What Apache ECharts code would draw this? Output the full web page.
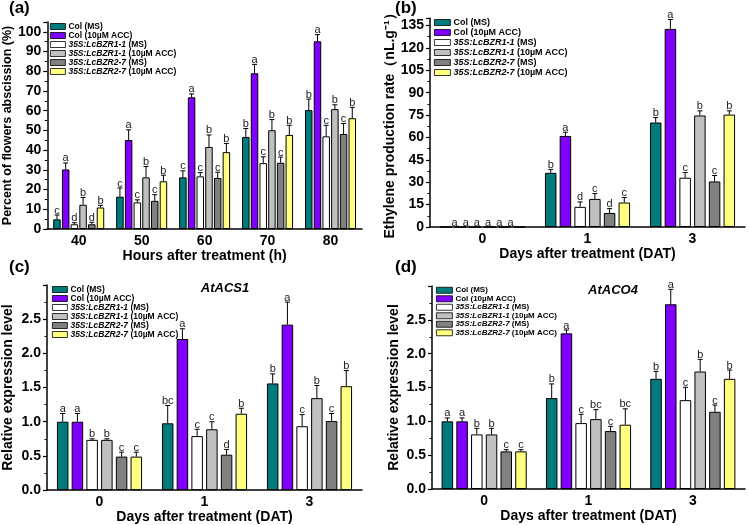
<!DOCTYPE html>
<html>
<head>
<meta charset="utf-8">
<script src="https://cdn.jsdelivr.net/npm/echarts@6/dist/echarts.min.js"></script>
<style>
  html, body { margin: 0; padding: 0; background: #fff; }
  #main { width: 749px; height: 525px; }
</style>
</head>
<body>
<div id="main"></div>
<script>
const seriesNames = ['Col (MS)', 'Col (10µM ACC)', '35S:LcBZR1-1 (MS)', '35S:LcBZR1-1 (10µM ACC)', '35S:LcBZR2-7 (MS)', '35S:LcBZR2-7 (10µM ACC)']
const colors = ['#007b7b', '#8000ff', '#ffffff', '#c0c0c0', '#808080', '#ffff80']

// (a) flower abscission
const aCats = ['40', '50', '60', '70', '80']
const aMean = [
  [4.9, 16.4, 26.2, 46.7, 60.3],
  [30.2, 45.1, 66.8, 79.0, 95.2],
  [2.4, 13.5, 26.7, 33.4, 47.0],
  [12.3, 26.2, 41.6, 50.1, 60.8],
  [2.4, 14.3, 25.9, 33.6, 48.2],
  [10.9, 24.2, 39.0, 47.7, 56.2]
]
const aErr = [
  [2.2, 4.4, 3.3, 4.3, 5.6],
  [3.3, 5.2, 1.7, 4.5, 3.4],
  [0.8, 1.3, 1.9, 3.2, 5.6],
  [3.7, 5.5, 6.1, 5.4, 2.2],
  [1.0, 3.1, 2.9, 2.9, 5.3],
  [1.1, 3.1, 4.4, 4.9, 5.5]
]
const aSig = [
  ['c', 'c', 'c', 'b', 'b'],
  ['a', 'a', 'a', 'a', 'a'],
  ['d', 'c', 'c', 'c', 'c'],
  ['b', 'b', 'b', 'b', 'b'],
  ['d', 'c', 'c', 'c', 'c'],
  ['b', 'b', 'b', 'b', 'b']
]

// (b) ethylene production
const dayCats = ['0', '1', '3']
const bMean = [
  [0, 36.3, 70.0],
  [0, 61.0, 132.7],
  [0, 13.5, 33.0],
  [0, 18.8, 74.7],
  [0, 9.4, 30.5],
  [0, 16.4, 75.3]
]
const bErr = [
  [0, 2.3, 3.3],
  [0, 2.5, 6.3],
  [0, 3.3, 3.5],
  [0, 3.6, 3.1],
  [0, 2.9, 4.0],
  [0, 3.3, 2.5]
]
const bSig = [
  ['a', 'b', 'b'],
  ['a', 'a', 'a'],
  ['a', 'd', 'c'],
  ['a', 'c', 'b'],
  ['a', 'd', 'c'],
  ['a', 'c', 'b']
]

// (c) AtACS1
const cMean = [
  [1.00, 0.977, 1.56],
  [1.00, 2.21, 2.42],
  [0.735, 0.79, 0.934],
  [0.735, 0.89, 1.345],
  [0.49, 0.518, 1.01],
  [0.49, 1.117, 1.52]
]
const cErr = [
  [0.12, 0.26, 0.14],
  [0.12, 0.15, 0.33],
  [0.015, 0.10, 0.17],
  [0.015, 0.11, 0.185],
  [0.065, 0.077, 0.11],
  [0.065, 0.08, 0.23]
]
const cSig = [
  ['a', 'bc', 'b'],
  ['a', 'a', 'a'],
  ['b', 'c', 'c'],
  ['b', 'c', 'b'],
  ['c', 'd', 'c'],
  ['c', 'b', 'b']
]

// (d) AtACO4
const dMean = [
  [1.0, 1.343, 1.628],
  [1.0, 2.30, 2.73],
  [0.807, 0.974, 1.313],
  [0.807, 1.033, 1.736],
  [0.556, 0.856, 1.141],
  [0.556, 0.95, 1.628]
]
const dErr = [
  [0.05, 0.21, 0.11],
  [0.05, 0.05, 0.22],
  [0.09, 0.13, 0.19],
  [0.09, 0.14, 0.18],
  [0.025, 0.07, 0.10],
  [0.025, 0.235, 0.13]
]
const dSig = [
  ['a', 'b', 'b'],
  ['a', 'a', 'a'],
  ['b', 'c', 'c'],
  ['b', 'bc', 'b'],
  ['c', 'c', 'c'],
  ['c', 'bc', 'b']
]

const FONT = 'Liberation Sans'

const panels = [
  { cats: aCats, mean: aMean, err: aErr, sig: aSig, barW: 7.5, gap: 16,
    grid: { left: 45, top: 22, width: 317, height: 207 },
    y: { max: 105, interval: 10, dec: 0 }, yName: 'Percent of flowers abscission (%)', yGap: 30, yFont: 12.5,
    xName: 'Hours after treatment (h)', xGap: 19,
    legend: { left: 50, top: 22, w: 15, h: 6, font: 8.5, lh: 9, gap: 0 } },
  { cats: dayCats, mean: bMean, err: bErr, sig: bSig, barW: 11.5, gap: 28,
    grid: { left: 430, top: 18, width: 315, height: 209 },
    y: { max: 140, interval: 15, dec: 0 }, yName: 'Ethylene production rate（nL.g⁻¹）', yGap: 28, yFont: 14,
    xName: 'Days after treatment (DAT)', xGap: 18,
    legend: { left: 434, top: 18, w: 16, h: 6, font: 9, lh: 9, gap: 1 } },
  { cats: dayCats, mean: cMean, err: cErr, sig: cSig, barW: 11.5, gap: 28,
    grid: { left: 47, top: 285, width: 315, height: 207 },
    y: { max: 3, interval: 0.5, dec: 1 }, yName: 'Relative expression level', yGap: 32, yFont: 14,
    xName: 'Days after treatment (DAT)', xGap: 18,
    legend: { left: 52, top: 285, w: 15, h: 6, font: 8.5, lh: 8.5, gap: 0 } },
  { cats: dayCats, mean: dMean, err: dErr, sig: dSig, barW: 11.5, gap: 28,
    grid: { left: 432, top: 286, width: 313, height: 203 },
    y: { max: 3, interval: 0.5, dec: 1 }, yName: 'Relative expression level', yGap: 31, yFont: 14,
    xName: 'Days after treatment (DAT)', xGap: 19,
    legend: { left: 436, top: 286, w: 16, h: 6, font: 8, lh: 8.5, gap: 0 } }
]

const chart = echarts.init(document.getElementById('main'))

const grids = []
const xAxes = []
const yAxes = []
const legends = []
const series = []

panels.forEach((p, idx) => {
  grids.push(p.grid)
  xAxes.push({
    type: 'category',
    gridIndex: idx,
    data: p.cats,
    axisLine: { lineStyle: { color: '#000', width: 1.5 } },
    axisTick: { alignWithLabel: true, length: 4, lineStyle: { color: '#000', width: 1.2 } },
    axisLabel: { color: '#000', fontSize: 14, fontWeight: 'bold', fontFamily: FONT, margin: 5 },
    name: p.xName,
    nameLocation: 'middle',
    nameGap: p.xGap,
    nameTextStyle: { color: '#000', fontSize: 14, fontWeight: 'bold', fontFamily: FONT }
  })
  yAxes.push({
    type: 'value',
    gridIndex: idx,
    min: 0,
    max: p.y.max,
    interval: p.y.interval,
    splitLine: { show: false },
    axisLine: { show: true, lineStyle: { color: '#000', width: 1.5 } },
    axisTick: { show: true, length: 4, lineStyle: { color: '#000', width: 1.2 } },
    minorTick: { show: true, splitNumber: 2, length: 2.5, lineStyle: { color: '#000' } },
    axisLabel: {
      color: '#000', fontSize: 14, fontWeight: 'bold', fontFamily: FONT, margin: 6,
      showMaxLabel: false,
      formatter: (v) => v.toFixed(p.y.dec)
    },
    name: p.yName,
    nameLocation: 'middle',
    nameGap: p.yGap,
    nameTextStyle: { color: '#000', fontSize: p.yFont, fontWeight: 'bold', fontFamily: FONT }
  })
  const L = p.legend
  legends.push({
    data: seriesNames,
    orient: 'vertical',
    left: L.left,
    top: L.top,
    itemWidth: L.w,
    itemHeight: L.h,
    itemGap: L.gap,
    padding: 0,
    icon: 'rect',
    itemStyle: { borderColor: '#000', borderWidth: 0.8 },
    formatter: (name) => {
      if (name.indexOf('35S') === 0) {
        const k = name.indexOf(' ')
        return '{i|' + name.slice(0, k) + '}{n|' + name.slice(k) + '}'
      }
      return '{n|' + name + '}'
    },
    textStyle: {
      color: '#000', fontSize: L.font, fontWeight: 'bold', fontFamily: FONT, lineHeight: L.lh, padding: [0, 0, 0, -2],
      rich: {
        i: { fontSize: L.font, fontWeight: 'bold', fontStyle: 'italic', fontFamily: FONT, lineHeight: L.lh, color: '#000' },
        n: { fontSize: L.font, fontWeight: 'bold', fontFamily: FONT, lineHeight: L.lh, color: '#000' }
      }
    }
  })

  for (let s = 0; s < 6; s++) {
    series.push({
      name: seriesNames[s],
      type: 'bar',
      xAxisIndex: idx,
      yAxisIndex: idx,
      barWidth: p.barW,
      barGap: p.gap + '%',
      data: p.mean[s],
      itemStyle: { color: colors[s], borderColor: '#000', borderWidth: 1 }
    })
  }

  // error bars + significance letters
  const items = []
  for (let s = 0; s < 6; s++) {
    for (let c = 0; c < p.cats.length; c++) {
      items.push({ s: s, c: c, m: p.mean[s][c], e: p.err[s][c], t: p.sig[s][c] })
    }
  }
  const pitch = p.barW * (1 + p.gap / 100)
  series.push({
    type: 'custom',
    name: 'err' + idx,
    xAxisIndex: idx,
    yAxisIndex: idx,
    z: 5,
    data: items.map((it) => [it.c, it.m + it.e]),
    renderItem: function (params, api) {
      const it = items[params.dataIndex]
      const base = api.coord([it.c, it.m])
      const top = api.coord([it.c, it.m + it.e])
      // letters over empty (zero) bars sit closer together, as in the original
      const step = it.m === 0 ? pitch * 0.76 : pitch
      const x = base[0] + (it.s - 2.5) * step
      const children = []
      if (it.e > 0) {
        children.push({
          type: 'line',
          shape: { x1: x, y1: base[1], x2: x, y2: top[1] },
          style: { stroke: '#000', lineWidth: 1 }
        })
        children.push({
          type: 'line',
          shape: { x1: x - 2.5, y1: top[1], x2: x + 2.5, y2: top[1] },
          style: { stroke: '#000', lineWidth: 1 }
        })
      }
      children.push({
        type: 'text',
        x: x,
        y: top[1] + 1,
        style: {
          text: it.t, textAlign: 'center', textVerticalAlign: 'bottom',
          fill: '#222', fontSize: 11, fontFamily: FONT
        }
      })
      return { type: 'group', children: children }
    }
  })
})

const labelStyle = { fill: '#000', fontSize: 17, fontWeight: 'bold', fontFamily: FONT }
const geneStyle = { fill: '#000', fontSize: 13, fontWeight: 'bold', fontStyle: 'italic', fontFamily: FONT, textAlign: 'center', textVerticalAlign: 'middle' }

const option = {
  animation: false,
  backgroundColor: '#fff',
  grid: grids,
  xAxis: xAxes,
  yAxis: yAxes,
  legend: legends,
  series: series,
  graphic: [
    { type: 'text', left: 9, top: 0, style: Object.assign({ text: '(a)' }, labelStyle) },
    { type: 'text', left: 395, top: 0, style: Object.assign({ text: '(b)' }, labelStyle) },
    { type: 'text', left: 9, top: 259, style: Object.assign({ text: '(c)' }, labelStyle) },
    { type: 'text', left: 395, top: 259, style: Object.assign({ text: '(d)' }, labelStyle) },
    { type: 'text', x: 225, y: 288, style: Object.assign({ text: 'AtACS1' }, geneStyle) },
    { type: 'text', x: 613, y: 290, style: Object.assign({ text: 'AtACO4' }, geneStyle) }
  ]
}

chart.setOption(option)
window.addEventListener('resize', function () {
  chart.resize()
})
</script>
</body>
</html>
